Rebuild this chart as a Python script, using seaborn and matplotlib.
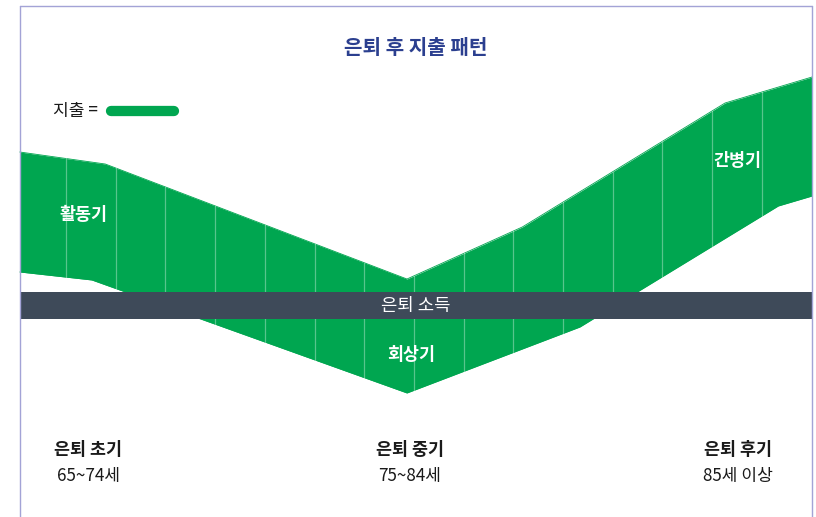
import numpy as np
import pandas as pd
import matplotlib
matplotlib.use("Agg")
import matplotlib.pyplot as plt
from matplotlib.lines import Line2D
import seaborn as sns

sns.set_theme(style="white")
plt.rcParams["font.family"] = ["Noto Sans CJK KR", "DejaVu Sans"]

# Spending band along the retirement timeline (x: period index, y: level vs. income = 0)
upper_x = [0.07, 1.79, 7.86, 10.18, 14.26, 16.01]
upper_y = [15.35, 14.15, 2.65, 7.85, 20.25, 22.85]
lower_x = [0.07, 1.52, 7.86, 11.34, 15.33, 16.01]
lower_y = [3.35, 2.55, -8.75, -2.15, 9.95, 10.95]
dividers = list(range(1, 16))

income_label = "은퇴 소득"
income_half_width = 1.35

phase_names = ["활동기", "회상기", "간병기"]
phase_x = [1.36, 7.94, 14.5]
phase_y = [9.1, -4.9, 14.5]

stage_titles = ["은퇴 초기", "은퇴 중기", "은퇴 후기"]
stage_ages = ["65~74세", "75~84세", "85세 이상"]
stage_x = [1.45, 7.92, 14.52]

GREEN = "#00A650"
BAR = "#3E4A59"
NAVY = "#2B3F8F"
FRAME = "#A3A3D6"
INK = "#1a1a1a"

xs = np.union1d(upper_x, lower_x)
band = pd.DataFrame({
    "x": xs,
    "upper": np.interp(xs, upper_x, upper_y),
    "lower": np.interp(xs, lower_x, lower_y),
})

fig = plt.figure(figsize=(8.16, 5.17), dpi=100)
ax = fig.add_axes([0, 0, 1, 1])
ax.set_xlim(-0.328, 16.09)
ax.set_ylim(-21.15, 30.55)
ax.axis("off")

# green spending band
ax.fill_between(band["x"], band["lower"], band["upper"], color=GREEN, lw=0, zorder=2)
sns.lineplot(data=band, x="x", y="upper", ax=ax, color=GREEN, lw=0.6, zorder=2)
sns.lineplot(data=band, x="x", y="lower", ax=ax, color=GREEN, lw=0.6, zorder=2)

# thin period dividers
for d in dividers:
    lo = np.interp(d, band["x"], band["lower"])
    hi = np.interp(d, band["x"], band["upper"])
    ax.plot([d, d], [lo, hi], color="white", alpha=0.35, lw=0.9, zorder=3)

# retirement income bar
ax.fill_between([upper_x[0], upper_x[-1]], -income_half_width, income_half_width,
                color=BAR, lw=0, zorder=4)
ax.text((upper_x[0] + upper_x[-1]) / 2, 0, income_label, color="white",
        fontsize=12.8, ha="center", va="center", zorder=5)

for name, px, py in zip(phase_names, phase_x, phase_y):
    ax.text(px, py, name, color="white", fontsize=12.5, fontweight="bold",
            ha="center", va="center", zorder=5)

for t, a, px in zip(stage_titles, stage_ages, stage_x):
    ax.text(px, -14.45, t, color=INK, fontsize=12.5, fontweight="bold",
            ha="center", va="center")
    ax.text(px, -17.0, a, color=INK, fontsize=12.3, ha="center", va="center")

# title and legend
fig.text(0.51, 0.909, "은퇴 후 지출 패턴", color=NAVY, fontsize=14.5,
         fontweight="bold", ha="center", va="center")
fig.text(0.065, 0.785, "지출 =", color=INK, fontsize=12.3, ha="left", va="center")
fig.add_artist(Line2D([0.136, 0.213], [0.785, 0.785], transform=fig.transFigure,
                      color=GREEN, lw=7.4, solid_capstyle="round"))

# outer frame (left, top, right)
for xy in [([0.0245, 0.0245], [0.0, 0.988]),
           ([0.0245, 0.9955], [0.988, 0.988]),
           ([0.9955, 0.9955], [0.988, 0.0])]:
    fig.add_artist(Line2D(xy[0], xy[1], transform=fig.transFigure, color=FRAME, lw=1))

fig.savefig("out.png", dpi=100)
